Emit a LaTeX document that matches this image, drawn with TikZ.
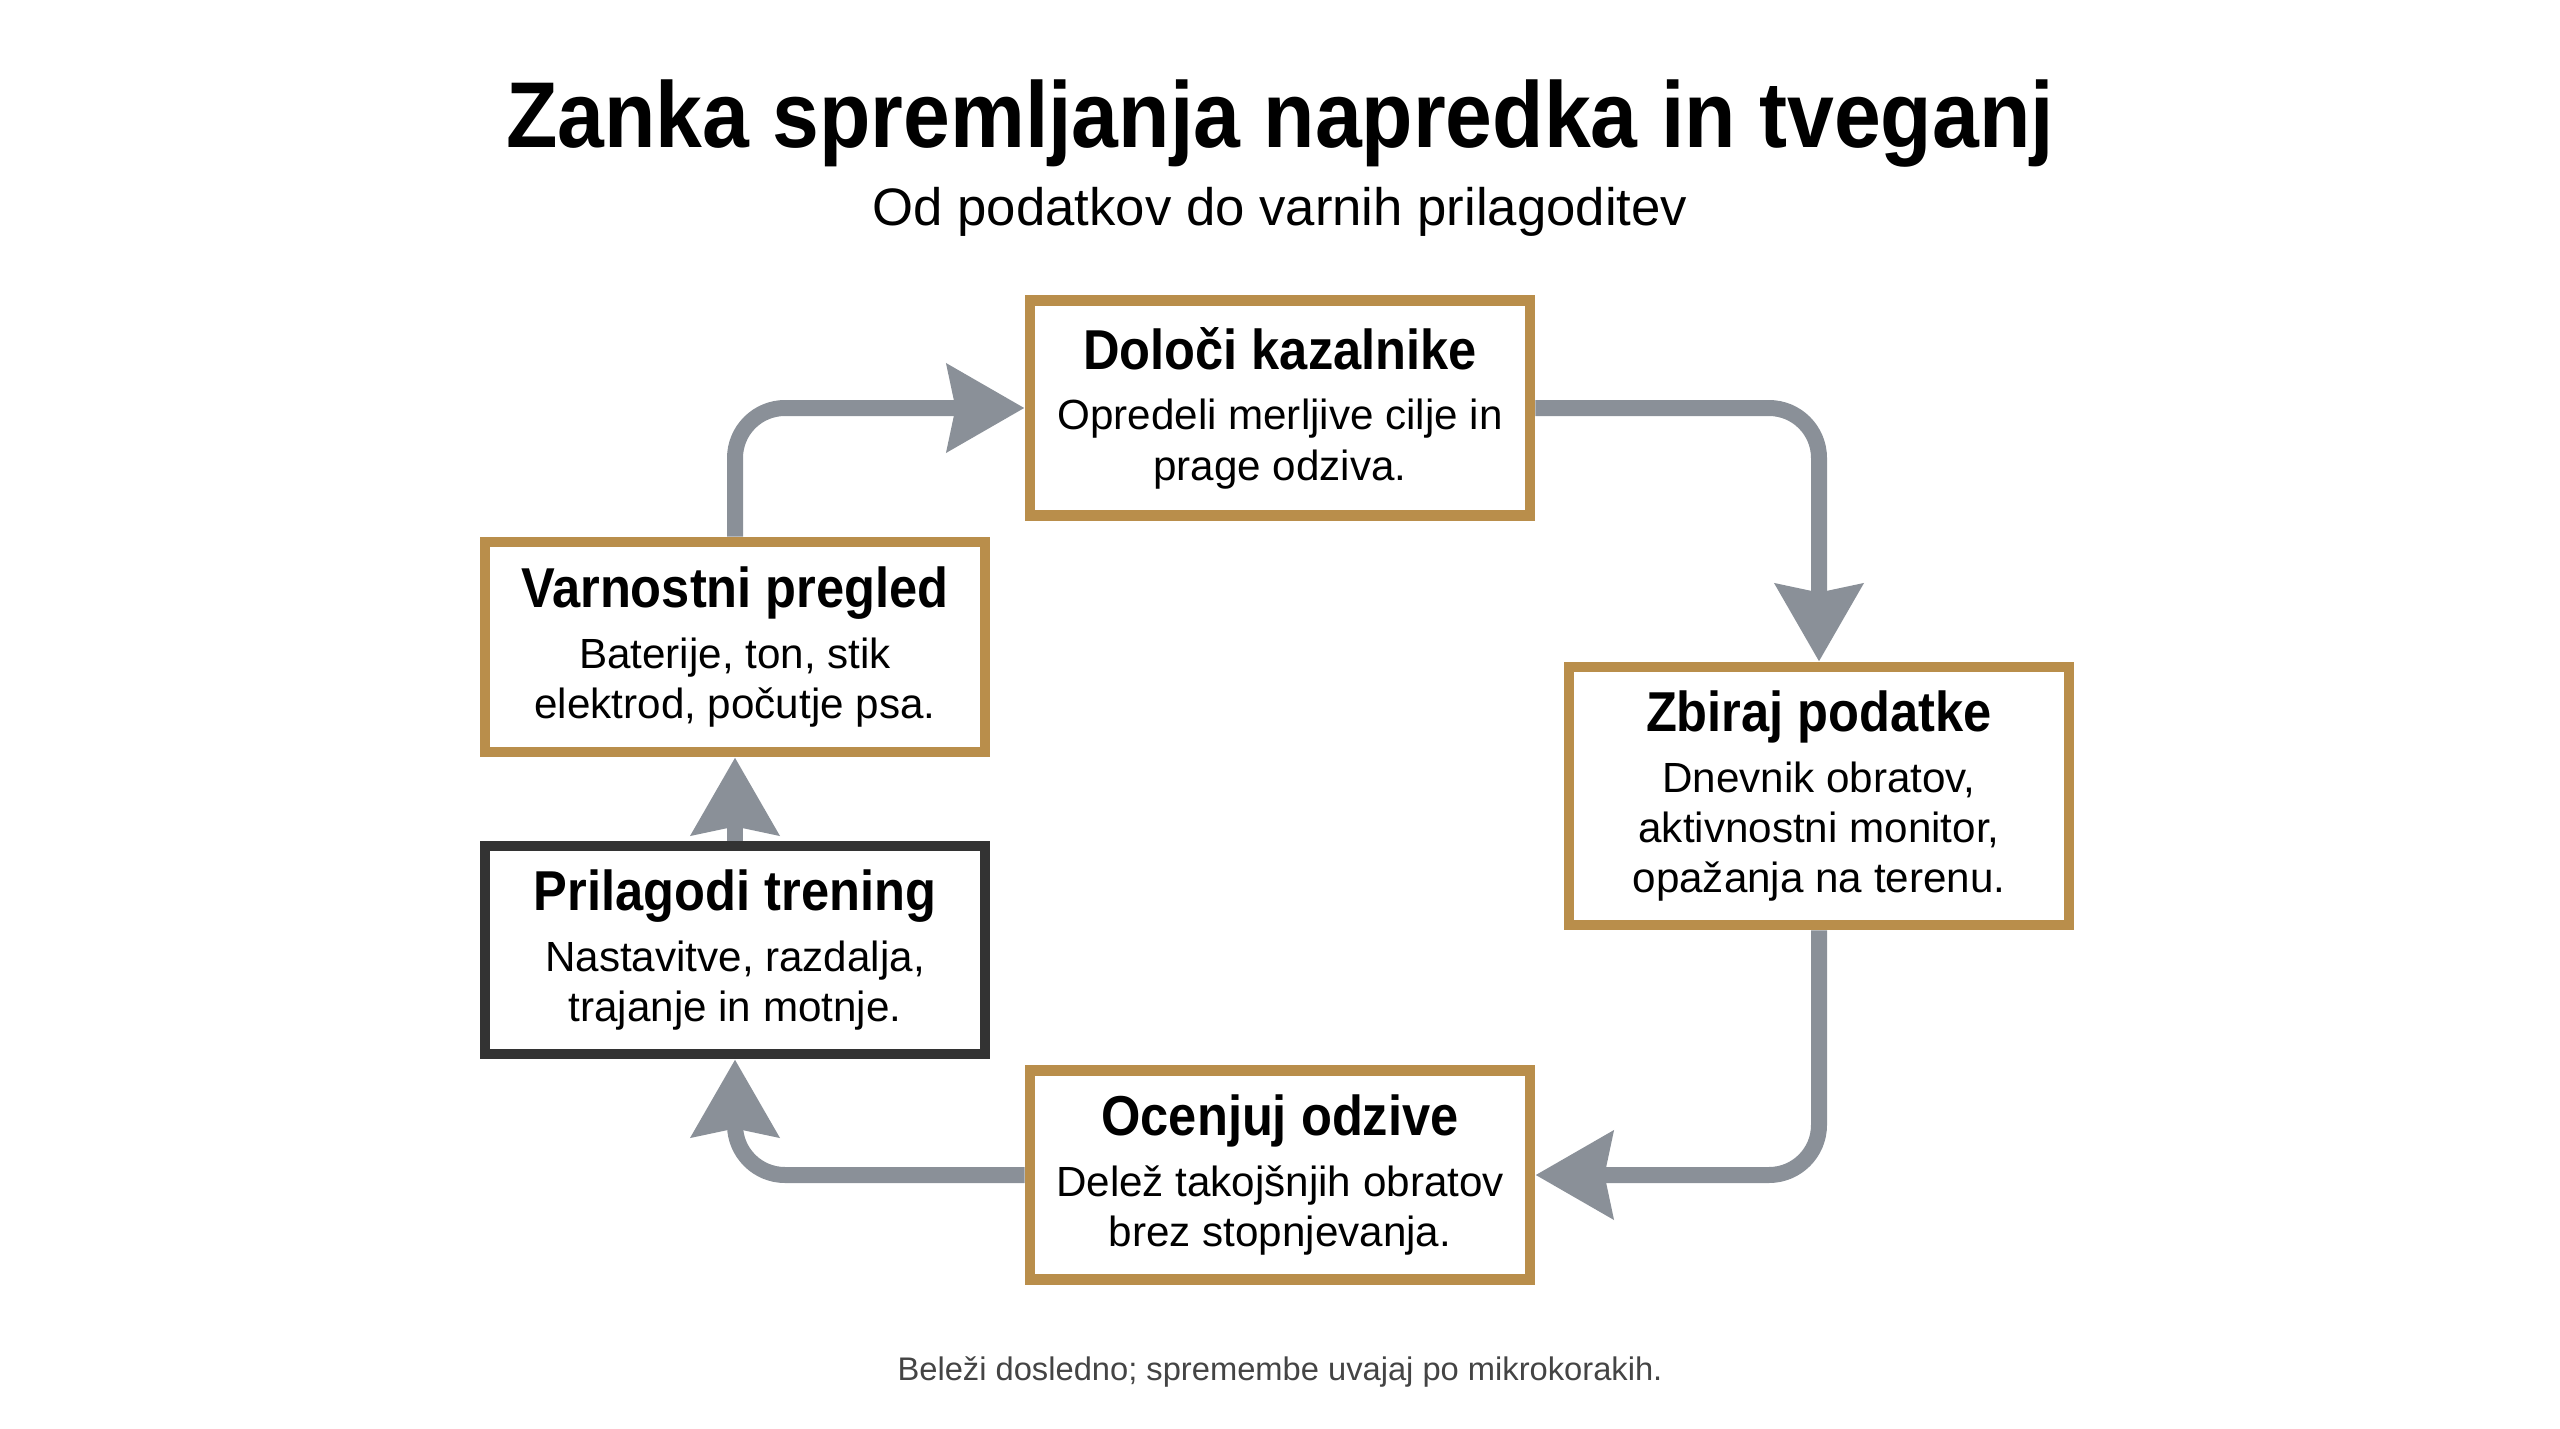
\documentclass[tikz,border=0pt]{standalone}
\usepackage{fontspec}
\setmainfont{Liberation Sans}[BoldFeatures={FakeStretch=0.9}]
\usetikzlibrary{arrows.meta, positioning}

\definecolor{gold}{HTML}{B98E4B}
\definecolor{darkframe}{HTML}{333333}
\definecolor{flowgray}{HTML}{8A9098}
\definecolor{notegray}{HTML}{444444}

\begin{document}
\begin{tikzpicture}[
  every node/.style={font=\fontsize{12}{14.3}\selectfont},
  card/.style={draw=gold, line width=3.1pt, fill=white, minimum width=5.0cm, align=center, inner sep=4pt},
  focus/.style={card, draw=darkframe},
  flow/.style={-{Stealth[length=0.77cm, width=0.86cm, inset=0.08cm]}, line width=0.16cm, draw=flowgray, rounded corners=0.5cm},
  caption/.style={font=\fontsize{9.3}{11}\selectfont, text=notegray}
]
\useasboundingbox (0,0) rectangle (25.6,-14.29);

% Title and subtitle
\node[anchor=base, font=\fontsize{26.6}{32}\selectfont\bfseries] (title) at (12.80,-1.47)
  {Zanka spremljanja napredka in tveganj};
\node[anchor=base, font=\fontsize{15}{18}\selectfont] (subtitle) at (12.80,-2.25)
  {Od podatkov do varnih prilagoditev};

% Loop steps
\node[card, minimum height=2.15cm] (define) at (12.80,-4.08)
  {{\fontsize{16}{20}\selectfont\bfseries Določi kazalnike}\\[3pt]
   Opredeli merljive cilje in\\prage odziva.};
\node[card, minimum height=2.58cm] (collect) at (18.19,-7.96)
  {{\fontsize{16}{20}\selectfont\bfseries Zbiraj podatke}\\[3pt]
   Dnevnik obratov,\\aktivnostni monitor,\\opažanja na terenu.};
\node[card, minimum height=2.09cm] (assess) at (12.80,-11.75)
  {{\fontsize{16}{20}\selectfont\bfseries Ocenjuj odzive}\\[3pt]
   Delež takojšnjih obratov\\brez stopnjevanja.};
\node[focus, minimum height=2.08cm] (adjust) at (7.35,-9.50)
  {{\fontsize{16}{20}\selectfont\bfseries Prilagodi trening}\\[3pt]
   Nastavitve, razdalja,\\trajanje in motnje.};
\node[card, minimum height=2.10cm] (safety) at (7.35,-6.47)
  {{\fontsize{16}{20}\selectfont\bfseries Varnostni pregled}\\[3pt]
   Baterije, ton, stik\\elektrod, počutje psa.};

% Arrows round the loop
\draw[flow] (safety.north) |- (define.west);
\draw[flow] (define.east) -| (collect.north);
\draw[flow] (collect.south) |- (assess.east);
\draw[flow] (assess.west) -| (adjust.south);
\draw[flow] (adjust.north) -- (safety.south);

% Footnote
\node[caption, anchor=base] (note) at (12.80,-13.80)
  {Beleži dosledno; spremembe uvajaj po mikrokorakih.};

\end{tikzpicture}
\end{document}
